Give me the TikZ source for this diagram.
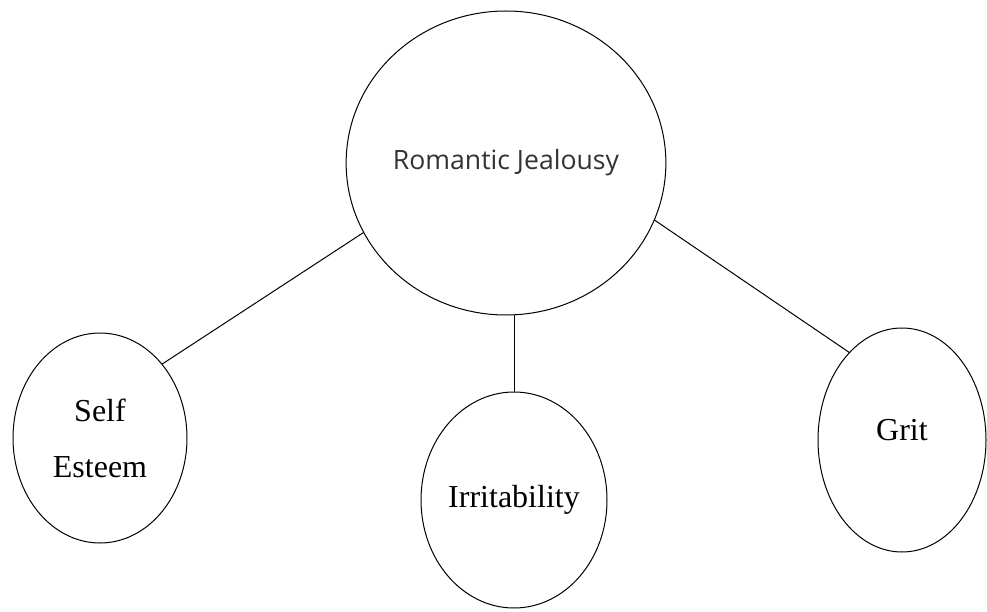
\documentclass[tikz,border=0pt]{standalone}
\usepackage{fontspec}
\setmainfont{Liberation Serif}
\newfontfamily\rjfont{Open Sans}
\usetikzlibrary{shapes.geometric}
\begin{document}
\begin{tikzpicture}[x=1pt,y=-1pt,
    bubble/.style={draw, ellipse, line width=1pt, inner sep=0pt, outer sep=0pt,
        font=\fontsize{32}{56}\selectfont, align=center}]
        \useasboundingbox (0,0) rectangle (987,612);
        \node[bubble, minimum width=260pt, minimum height=304pt,
            font=\rjfont\fontsize{26.6}{30}\selectfont, text=black!80] (rj) at (506,163) {Romantic Jealousy};
        \node[bubble, minimum width=174pt, minimum height=210pt] (se) at (100,438) {Self\\Esteem};
        \node[bubble, minimum width=185pt, minimum height=216pt] (irr) at (514,500) {Irritability};
        \node[bubble, minimum width=168pt, minimum height=224pt, text depth=20pt] (grit) at (902,440) {Grit};
        \draw[line width=1pt] (rj.206) -- (se.50);
        \draw[line width=1pt] (irr.north) -- (irr.north |- rj.south);
        \draw[line width=1pt] (rj.339) -- (grit.121);
    \end{tikzpicture}
\end{document}
